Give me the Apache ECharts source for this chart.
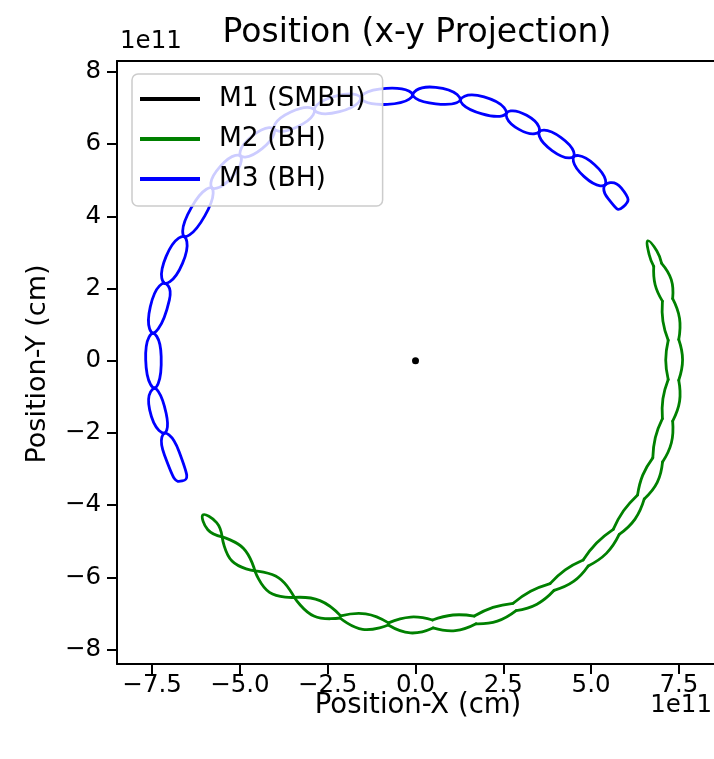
<!DOCTYPE html>
<html>
<head>
<meta charset="utf-8">
<script src="https://cdn.jsdelivr.net/npm/echarts@6/dist/echarts.min.js"></script>
<style>
html,body{margin:0;padding:0;background:#fff;}
#chart{width:714px;height:759px;}
</style>
</head>
<body>
<div id="chart"></div>
<script>
// All positions are in units of 1e11 cm.
const xTicks = [-7.5, -5.0, -2.5, 0.0, 2.5, 5.0, 7.5];
const yTicks = [-8, -6, -4, -2, 0, 2, 4, 6, 8];
const seriesNames = ['M1 (SMBH)', 'M2 (BH)', 'M3 (BH)'];

// M1 sits at the origin
const m1Path = [[0, 0]];

// Each BH track is a chain of loops. Joints are the kinks between loops
// (first and last entries are the two ends of the track); mids are the
// widest points of each loop on the outer and inner side.
const m2OuterJoints = [
  [-6.053,-4.271], [-5.506,-4.881], [-4.573,-5.823], [-3.449,-6.557], [-2.149,-7.126],
  [-0.775,-7.321], [0.499,-7.401], [1.724,-7.287], [2.865,-6.922], [3.948,-6.359],
  [4.918,-5.684], [5.801,-4.812], [6.514,-3.829], [7.035,-2.804], [7.323,-1.673],
  [7.496,-0.543], [7.496,0.588], [7.323,1.718], [7.008,2.697], [6.615,3.319]
];
const m2OuterMids = [
  [-5.914,-4.682], [-5.225,-5.548], [-4.158,-6.417], [-2.895,-7.071], [-1.506,-7.442],
  [-0.145,-7.539], [1.133,-7.478], [2.330,-7.213], [3.459,-6.743], [4.500,-6.114],
  [5.442,-5.329], [6.251,-4.387], [6.884,-3.372], [7.287,-2.272], [7.520,-1.125],
  [7.605,0.023], [7.519,1.170], [7.283,2.245], [6.873,3.039]
];
const m2InnerJoints = [
  [-6.053,-4.271], [-5.506,-4.881], [-4.573,-5.823], [-3.449,-6.557], [-2.131,-7.068],
  [-0.769,-7.261], [0.485,-7.181], [1.674,-7.073], [2.781,-6.718], [3.832,-6.173],
  [4.774,-5.518], [5.631,-4.672], [6.324,-3.717], [6.757,-2.692], [7.031,-1.607],
  [7.196,-0.521], [7.196,0.564], [7.031,1.650], [6.784,2.611], [6.615,3.319]
];
const m2InnerMids = [
  [-5.663,-4.484], [-4.896,-5.199], [-3.897,-6.015], [-2.721,-6.645], [-1.419,-7.011],
  [-0.136,-7.099], [1.067,-7.043], [2.207,-6.833], [3.277,-6.387], [4.263,-5.792],
  [5.156,-5.049], [5.924,-4.157], [6.471,-3.170], [6.829,-2.129], [7.045,-1.054],
  [7.125,0.021], [7.045,1.096], [6.824,2.103], [6.653,2.942]
];

// M3: the loops pinch together at every joint
const m3Joints = [
  [-6.643,-3.330], [-7.149,-2.008], [-7.430,-0.762], [-7.478,0.762], [-7.149,2.147],
  [-6.587,3.438], [-5.801,4.787], [-4.986,5.673], [-4.031,6.421], [-2.879,6.947],
  [-1.559,7.280], [-0.079,7.363], [1.278,7.224], [2.590,6.856], [3.525,6.346],
  [4.508,5.654], [5.399,4.870], [5.913,4.260]
];
const m3OuterMids = [
  [-7.149,-2.609], [-7.570,-1.363], [-7.683,0.022], [-7.551,1.499], [-7.101,2.889],
  [-6.388,4.233], [-5.559,5.380], [-4.649,6.222], [-3.551,6.886], [-2.275,7.330],
  [-0.829,7.543], [0.576,7.571], [1.952,7.307], [3.166,6.795], [4.146,6.180],
  [5.101,5.429], [5.857,4.787]
];
const m3InnerMids = [
  [-6.728,-2.526], [-7.101,-1.454], [-7.242,0.114], [-7.008,1.684], [-6.635,2.695],
  [-6.000,4.011], [-5.228,5.080], [-4.368,5.873], [-3.360,6.482], [-2.163,6.898],
  [-0.806,7.100], [0.576,7.114], [1.896,6.837], [2.947,6.407], [3.888,5.820],
  [4.803,5.097], [5.492,4.482]
];

const FONT = 'DejaVu Sans';
const LINE_W = 2.8;
const minus = s => s.replace('-', '\u2212');
const fmtX = v => minus(Number(v).toFixed(1));
const fmtY = v => minus(String(Math.round(v)));

// Draws loop number k of a track: both sides of the loop as smooth arcs
// meeting at the joints; the two end loops are drawn as one rounded cap.
function loopRenderer(outerJ, outerM, innerJ, innerM, smooth) {
  return function (params, api) {
    const k = params.dataIndex;
    const n = outerM.length;
    const P = p => api.coord(p);
    const style = {stroke: api.visual('color'), lineWidth: LINE_W, fill: null, lineJoin: 'round', lineCap: 'round'};
    let paths;
    if (k === 0) {
      paths = [[P(outerJ[1]), P(outerM[0]), P(outerJ[0]), P(innerM[0]), P(innerJ[1])]];
    } else if (k === n - 1) {
      paths = [[P(outerJ[n - 1]), P(outerM[n - 1]), P(outerJ[n]), P(innerM[n - 1]), P(innerJ[n - 1])]];
    } else {
      paths = [
        [P(outerJ[k]), P(outerM[k]), P(outerJ[k + 1])],
        [P(innerJ[k]), P(innerM[k]), P(innerJ[k + 1])]
      ];
    }
    return {
      type: 'group',
      children: paths.map(pts => ({type: 'polyline', shape: {points: pts, smooth: smooth}, style: style}))
    };
  };
}

const chart = echarts.init(document.getElementById('chart'), null, {renderer: 'canvas'});
const spine = {show: true, onZero: false, lineStyle: {color: '#000', width: 2}};

chart.setOption({
  animation: false,
  backgroundColor: '#fff',
  textStyle: {fontFamily: FONT},
  grid: {left: 117, top: 61, width: 605, height: 603, containLabel: false},
  xAxis: [{
    type: 'value', min: -8.5, max: 8.5, position: 'bottom',
    axisLine: spine,
    axisTick: {show: true, customValues: xTicks, length: 10, lineStyle: {color: '#000', width: 2}},
    axisLabel: {show: true, customValues: xTicks, formatter: fmtX, fontSize: 24.5, color: '#000', margin: 9, fontFamily: FONT},
    splitLine: {show: false}
  }, {
    type: 'value', min: -8.5, max: 8.5, position: 'top',
    axisLine: spine, axisTick: {show: false}, axisLabel: {show: false}, splitLine: {show: false}
  }],
  yAxis: [{
    type: 'value', min: -8.4, max: 8.3, position: 'left',
    axisLine: spine,
    axisTick: {show: true, customValues: yTicks, length: 10, lineStyle: {color: '#000', width: 2}},
    axisLabel: {show: true, customValues: yTicks, formatter: fmtY, fontSize: 24.5, color: '#000', margin: 16, fontFamily: FONT},
    splitLine: {show: false}
  }],
  legend: {
    orient: 'vertical', left: 132, top: 74, z: 10,
    padding: [10, 17, 12, 8], itemGap: 10,
    itemWidth: 60, itemHeight: 4, icon: 'rect',
    backgroundColor: 'rgba(255,255,255,0.8)', borderColor: '#cccccc', borderWidth: 1.5, borderRadius: 6,
    textStyle: {fontSize: 26.5, color: '#000', fontFamily: FONT, lineHeight: 30, padding: [0, 0, 0, 14]},
    data: seriesNames
  },
  graphic: [
    {type: 'text', x: 417, y: 33, style: {text: 'Position (x-y Projection)', font: '33px "DejaVu Sans"', fill: '#000', align: 'center', verticalAlign: 'middle'}},
    {type: 'text', x: 120, y: 42, style: {text: '1e11', font: '24.5px "DejaVu Sans"', fill: '#000', align: 'left', verticalAlign: 'middle'}},
    {type: 'text', x: 712, y: 706, style: {text: '1e11', font: '24.5px "DejaVu Sans"', fill: '#000', align: 'right', verticalAlign: 'middle'}},
    {type: 'text', x: 418, y: 706, style: {text: 'Position-X (cm)', font: '27.5px "DejaVu Sans"', fill: '#000', align: 'center', verticalAlign: 'middle'}},
    {type: 'text', x: 38, y: 364, rotation: Math.PI / 2, style: {text: 'Position-Y (cm)', font: '27px "DejaVu Sans"', fill: '#000', align: 'center', verticalAlign: 'middle'}}
  ],
  series: [{
    name: seriesNames[0], type: 'line', data: m1Path,
    symbol: 'circle', symbolSize: 7, showSymbol: true,
    itemStyle: {color: '#000'}, lineStyle: {color: '#000', width: 3}, z: 4
  }, {
    name: seriesNames[1], type: 'custom', coordinateSystem: 'cartesian2d',
    data: m2OuterMids,
    itemStyle: {color: '#008000'},
    renderItem: loopRenderer(m2OuterJoints, m2OuterMids, m2InnerJoints, m2InnerMids, 0.45)
  }, {
    name: seriesNames[2], type: 'custom', coordinateSystem: 'cartesian2d',
    data: m3OuterMids,
    itemStyle: {color: '#0000ff'},
    renderItem: loopRenderer(m3Joints, m3OuterMids, m3Joints, m3InnerMids, 0.95)
  }]
});
</script>
</body>
</html>
